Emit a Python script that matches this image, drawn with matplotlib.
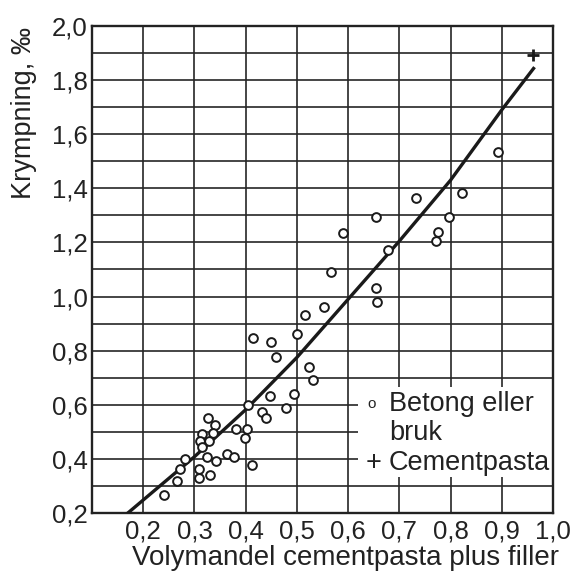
import matplotlib.pyplot as plt
from matplotlib.patches import Rectangle

plt.rcParams['font.family'] = ['Liberation Sans', 'DejaVu Sans']

# Betong eller bruk: Volymandel (x) och Krympning i promille (y)
betong_x = [0.448, 0.495, 0.405, 0.479, 0.432, 0.440, 0.327, 0.340, 0.314, 0.336,
            0.381, 0.402, 0.399, 0.311, 0.329, 0.314, 0.363, 0.378, 0.324, 0.281,
            0.342, 0.412, 0.272, 0.308, 0.331, 0.308, 0.266, 0.240,
            0.552, 0.516, 0.415, 0.449, 0.500, 0.460, 0.523, 0.531,
            0.733, 0.822, 0.654, 0.796, 0.590, 0.776, 0.771, 0.678, 0.567, 0.654,
            0.656, 0.893]
betong_y = [0.633, 0.640, 0.600, 0.587, 0.572, 0.550, 0.550, 0.525, 0.492, 0.496,
            0.510, 0.510, 0.476, 0.467, 0.467, 0.443, 0.418, 0.406, 0.406, 0.400,
            0.393, 0.377, 0.363, 0.363, 0.340, 0.328, 0.320, 0.267,
            0.960, 0.932, 0.846, 0.833, 0.861, 0.775, 0.738, 0.693,
            1.364, 1.383, 1.295, 1.295, 1.234, 1.237, 1.206, 1.172, 1.090, 1.031,
            0.981, 1.533]

# Cementpasta
pasta_x = [0.96]
pasta_y = [1.893]

# Kurvan, avläst punkt för punkt
kurva_x = [0.17, 0.20, 0.30, 0.40, 0.50, 0.60, 0.70, 0.80, 0.90, 0.962]
kurva_y = [0.20, 0.248, 0.408, 0.582, 0.775, 0.99, 1.205, 1.43, 1.69, 1.843]

x_ticks = [0.2, 0.3, 0.4, 0.5, 0.6, 0.7, 0.8, 0.9, 1.0]
x_labels = ["0,2", "0,3", "0,4", "0,5", "0,6", "0,7", "0,8", "0,9", "1,0"]
y_ticks = [0.2, 0.4, 0.6, 0.8, 1.0, 1.2, 1.4, 1.6, 1.8, 2.0]
y_labels = ["0,2", "0,4", "0,6", "0,8", "1,0", "1,2", "1,4", "1,6", "1,8", "2,0"]
y_minor = [0.3, 0.5, 0.7, 0.9, 1.1, 1.3, 1.5, 1.7, 1.9]

fig = plt.figure(figsize=(5.76, 5.73), dpi=100)
ax = fig.add_axes([92 / 576, 1 - 513 / 573, (553 - 92) / 576, (513 - 26) / 573])

ax.set_xlim(0.1, 1.0)
ax.set_ylim(0.2, 2.0)
ax.set_xticks(x_ticks)
ax.set_xticklabels(x_labels)
ax.set_yticks(y_ticks)
ax.set_yticklabels(y_labels)
ax.set_yticks(y_minor, minor=True)
ax.tick_params(which='both', length=0, labelsize=18.5, colors='#222222')
ax.tick_params(axis='x', pad=5)
ax.tick_params(axis='y', pad=3)

# Rutnät
ax.set_axisbelow(True)
ax.grid(True, which='both', color='#262626', linewidth=1.2)
for s in ax.spines.values():
    s.set_linewidth(1.7)
    s.set_color('#222222')

# Vit ruta för teckenförklaringen
ax.add_patch(Rectangle((0.62, 0.333), 0.38, 0.332, facecolor='white',
                       edgecolor='none', zorder=1.5))

ax.plot(kurva_x, kurva_y, color='#1a1a1a', linewidth=2.4, zorder=3)
ax.plot(betong_x, betong_y, linestyle='none', marker='o', markersize=6.3,
        markerfacecolor='white', markeredgecolor='#1a1a1a', markeredgewidth=1.4, zorder=4)
ax.plot(pasta_x, pasta_y, linestyle='none', marker='+', markersize=9,
        markeredgecolor='#1a1a1a', markeredgewidth=2, zorder=4)

# Teckenförklaring som text
ax.text(0.646, 0.603, "o", fontsize=11, ha='center', va='center', color='#222222', zorder=5)
ax.text(0.68, 0.603, "Betong eller", fontsize=19.5, ha='left', va='center', color='#222222', zorder=5)
ax.text(0.68, 0.497, "bruk", fontsize=19.5, ha='left', va='center', color='#222222', zorder=5)
ax.text(0.649, 0.383, "+", fontsize=19.5, ha='center', va='center', color='#222222', zorder=5)
ax.text(0.68, 0.383, "Cementpasta", fontsize=19.5, ha='left', va='center', color='#222222', zorder=5)

fig.text(24 / 576, 1 - 113 / 573, "Krympning, ‰", rotation=90, ha='center', va='center',
         fontsize=19.5, color='#222222')
fig.text(345 / 576, 1 - 558 / 573, "Volymandel cementpasta plus filler", ha='center',
         va='center', fontsize=20, color='#222222')

fig.savefig("out.png", dpi=100)
